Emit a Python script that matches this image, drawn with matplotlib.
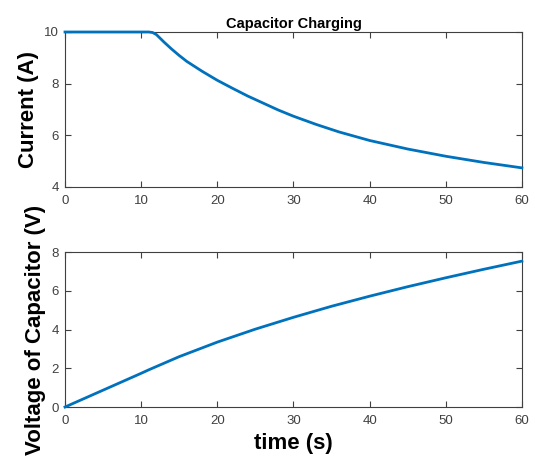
import matplotlib
matplotlib.use("Agg")
import matplotlib.pyplot as plt

# values
t_current = [0, 11, 11.5, 12, 13, 14, 15, 16, 18, 20, 22, 24, 26, 28, 30, 33, 36, 40, 45, 50, 55, 60]
current = [10, 10, 9.98, 9.9, 9.61, 9.34, 9.09, 8.86, 8.48, 8.13, 7.82, 7.52, 7.25, 6.98, 6.74,
           6.42, 6.13, 5.80, 5.47, 5.19, 4.95, 4.74]

t_voltage = [0, 5, 10, 11, 15, 20, 25, 30, 35, 40, 45, 50, 55, 60]
voltage = [0, 0.87, 1.74, 1.92, 2.60, 3.35, 4.02, 4.63, 5.20, 5.72, 6.21, 6.67, 7.11, 7.53]

x_ticks = [0, 10, 20, 30, 40, 50, 60]
current_ticks = [4, 6, 8, 10]
voltage_ticks = [0, 2, 4, 6, 8]

plt.rcParams['font.family'] = ['Liberation Sans', 'DejaVu Sans']

line_color = '#0072BD'
axis_color = '#404040'

fig = plt.figure(figsize=(5.35, 4.61), dpi=100)
fig.patch.set_facecolor('white')

ax1 = fig.add_axes([0.1215, 0.5944, 0.854, 0.3362])
ax2 = fig.add_axes([0.1215, 0.1171, 0.854, 0.3362])

for ax in (ax1, ax2):
    ax.set_xlim(0, 60)
    ax.set_xticks(x_ticks)
    ax.tick_params(direction='in', length=4, width=0.8, colors=axis_color,
                   labelsize=9.5, top=True, right=True)
    ax.tick_params(axis='x', pad=6)
    ax.tick_params(axis='y', pad=4.5)
    for s in ax.spines.values():
        s.set_color(axis_color)
        s.set_linewidth(0.8)

# top: current
ax1.plot(t_current, current, color=line_color, lw=2, clip_on=False, zorder=3)
ax1.set_ylim(4, 10)
ax1.set_yticks(current_ticks)
ax1.set_ylabel('Current (A)', fontsize=16, fontweight='bold')
ax1.yaxis.set_label_coords(-0.058, 0.5)
ax1.set_title('Capacitor Charging', fontsize=10.5, fontweight='bold', pad=3)

# bottom: voltage
ax2.plot(t_voltage, voltage, color=line_color, lw=2, clip_on=False, zorder=3)
ax2.set_ylim(0, 8)
ax2.set_yticks(voltage_ticks)
ax2.set_ylabel('Voltage of Capacitor (V)', fontsize=16, fontweight='bold')
ax2.yaxis.set_label_coords(-0.042, 0.5)
ax2.set_xlabel('time (s)', fontsize=16, fontweight='bold')
ax2.xaxis.set_label_coords(0.5, -0.165)

fig.savefig('out.png', dpi=100)
